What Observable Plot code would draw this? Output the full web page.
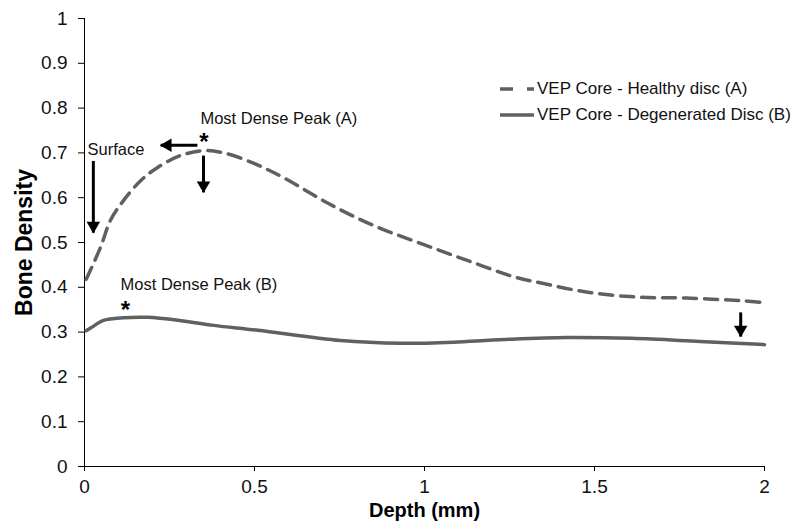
<!DOCTYPE html>
<html>
<head>
<meta charset="utf-8">
<script src="https://cdn.jsdelivr.net/npm/d3@7"></script>
<script src="https://cdn.jsdelivr.net/npm/@observablehq/plot@0.6"></script>
<style>
  html, body { margin: 0; padding: 0; background: #fff; }
  #wrap { position: relative; width: 800px; height: 531px; font-family: "Liberation Sans", Arial, sans-serif; }
  #legend { position: absolute; left: 500px; top: 76px; font-size: 17px; color: #111; }
  .row { display: flex; align-items: center; height: 26px; }
  .row svg { margin-right: 3px; }
</style>
</head>
<body>
<div id="wrap"></div>
<script>
// Series A: VEP Core - Healthy disc (dashed)
const depthA = [0.005, 0.047, 0.076, 0.115, 0.165, 0.214, 0.282, 0.35, 0.41, 0.497, 0.585, 0.715, 0.85, 0.988, 1.126, 1.26, 1.34, 1.48, 1.63, 1.77, 1.93, 2.0];
const densityA = [0.418, 0.489, 0.549, 0.594, 0.638, 0.667, 0.694, 0.705, 0.700, 0.677, 0.645, 0.588, 0.538, 0.498, 0.46, 0.424, 0.41, 0.389, 0.378, 0.376, 0.370, 0.366];
// Series B: VEP Core - Degenerated Disc (solid)
const depthB = [0.005, 0.02, 0.056, 0.115, 0.185, 0.28, 0.38, 0.51, 0.753, 0.93, 1.1, 1.25, 1.42, 1.61, 1.81, 2.0];
const densityB = [0.303, 0.31, 0.326, 0.332, 0.333, 0.326, 0.315, 0.304, 0.281, 0.275, 0.278, 0.284, 0.288, 0.286, 0.279, 0.272];

const seriesNames = ["VEP Core - Healthy disc (A)", "VEP Core - Degenerated Disc (B)"];
const xTicks = [0, 0.5, 1, 1.5, 2];
const yTicks = [0, 0.1, 0.2, 0.3, 0.4, 0.5, 0.6, 0.7, 0.8, 0.9, 1];
const xTitle = "Depth (mm)";
const yTitle = "Bone Density";

// Annotations (data coordinates)
const labelText = ["Surface", "Most Dense Peak (A)", "Most Dense Peak (B)"];
const labelX = [0.009, 0.341, 0.106];
const labelY = [0.708, 0.777, 0.406];
const starX = [0.351, 0.12];
const starY = [0.735, 0.36];
// vertical arrows: x, from y1 to tip y2
const vArrowX = [0.026, 0.35, 1.93];
const vArrowY1 = [0.682, 0.694, 0.344];
const vArrowY2 = [0.522, 0.612, 0.29];
// horizontal arrow: y, from x1 to tip x2
const hArrowY = [0.717];
const hArrowX1 = [0.332];
const hArrowX2 = [0.224];

const lineColor = "#606060";

const dataA = depthA.map((d, i) => ({depth: d, density: densityA[i]}));
const dataB = depthB.map((d, i) => ({depth: d, density: densityB[i]}));
const labels = labelText.map((t, i) => ({t, x: labelX[i], y: labelY[i]}));
const stars = starX.map((x, i) => ({x, y: starY[i]}));
const vArrows = vArrowX.map((x, i) => ({x, y1: vArrowY1[i], y2: vArrowY2[i]}));
const hArrows = hArrowY.map((y, i) => ({y, x1: hArrowX1[i], x2: hArrowX2[i]}));

const chart = Plot.plot({
  width: 800,
  height: 531,
  marginLeft: 84,
  marginRight: 36,
  marginTop: 18,
  marginBottom: 65,
  style: {fontFamily: "Liberation Sans, Arial, sans-serif", color: "#111", background: "#fff"},
  x: {domain: [0, 2]},
  y: {domain: [0, 1]},
  marks: [
    Plot.axisY({ticks: yTicks, tickSize: 6, tickPadding: 11, tickFormat: d => String(d), fontSize: 19, label: null, stroke: "#000"}),
    Plot.axisX({ticks: xTicks, tickSize: 5, tickPadding: 8, tickFormat: d => String(d), fontSize: 19, label: null, stroke: "#000"}),
    Plot.ruleX([0], {stroke: "#000"}),
    Plot.ruleY([0], {stroke: "#000"}),
    Plot.text([yTitle], {frameAnchor: "left", textAnchor: "middle", text: d => d, rotate: -90, dx: -60, fontSize: 23, fontWeight: "bold", fill: "#000"}),
    Plot.text([xTitle], {frameAnchor: "bottom", text: d => d, dy: 50, fontSize: 20, fontWeight: "bold", fill: "#000"}),
    Plot.line(dataA, {x: "depth", y: "density", stroke: lineColor, strokeWidth: 3.5, strokeDasharray: "13,8", curve: "catmull-rom"}),
    Plot.line(dataB, {x: "depth", y: "density", stroke: lineColor, strokeWidth: 3.5, curve: "catmull-rom"}),
    Plot.text(labels, {x: "x", y: "y", text: "t", textAnchor: "start", fontSize: 16.5, fill: "#111"}),
    Plot.text(stars, {x: "x", y: "y", text: () => "*", fontSize: 24, fontWeight: "bold", dy: 5, fill: "#000"}),
    Plot.link(vArrows, {x1: "x", x2: "x", y1: "y1", y2: "y2", stroke: "#000", strokeWidth: 3}),
    Plot.dot(vArrows, {x: "x", y: "y2", symbol: "triangle", r: 5, rotate: 180, dy: -7, fill: "#000", stroke: "none"}),
    Plot.link(hArrows, {x1: "x1", x2: "x2", y1: "y", y2: "y", stroke: "#000", strokeWidth: 3}),
    Plot.dot(hArrows, {x: "x2", y: "y", symbol: "triangle", r: 5, rotate: -90, dx: 7, fill: "#000", stroke: "none"})
  ]
});

const wrap = document.getElementById("wrap");
wrap.appendChild(chart);

const legend = document.createElement("div");
legend.id = "legend";
legend.innerHTML = `
  <div class="row"><svg width="34" height="8"><line x1="0" y1="4" x2="34" y2="4" stroke="${lineColor}" stroke-width="3.5" stroke-dasharray="13,14"/></svg>${seriesNames[0]}</div>
  <div class="row"><svg width="34" height="8"><line x1="0" y1="4" x2="34" y2="4" stroke="${lineColor}" stroke-width="3.5"/></svg>${seriesNames[1]}</div>`;
wrap.appendChild(legend);
</script>
</body>
</html>
